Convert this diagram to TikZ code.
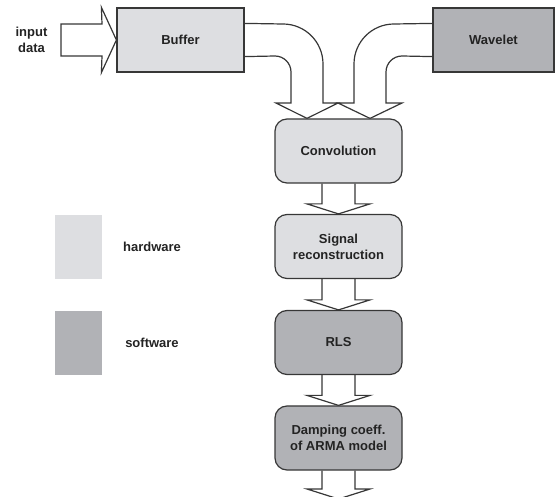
\documentclass[tikz,border=0pt]{standalone}
\usepackage{fontspec}
\setmainfont{Liberation Sans}
\usetikzlibrary{calc,backgrounds}
\definecolor{hwgray}{RGB}{221,222,225}
\definecolor{swgray}{RGB}{177,178,182}
\definecolor{linegray}{RGB}{55,55,55}
\definecolor{txtgray}{RGB}{35,35,35}
\newcommand\varrow[2]{\path[blockarrow] let \p1=(#1), \p2=(#2) in
  (\x1-16.5pt,\y1) -- (\x1-16.5pt,\y2+10pt) -- (\x1-31.5pt,\y2+10pt) -- (\x1,\y2)
  -- (\x1+31.5pt,\y2+10pt) -- (\x1+16.5pt,\y2+10pt) -- (\x1+16.5pt,\y1);}
\begin{document}
\begin{tikzpicture}[x=1pt,y=-1pt,
  lbl/.style={font=\fontsize{13}{16}\selectfont\bfseries, text=txtgray, align=center},
  box/.style={lbl, draw=linegray, line width=1.2pt, minimum width=127pt, minimum height=64pt, inner sep=0pt},
  hwbox/.style={box, fill=hwgray},
  swbox/.style={box, fill=swgray},
  rbox/.style={rounded corners=12pt},
  blockarrow/.style={draw=linegray, line width=1.2pt, fill=white, line join=miter},
  swatch/.style={minimum width=47pt, minimum height=64pt, inner sep=0pt}]
\useasboundingbox (0,0) rectangle (555,497);

% main boxes
\node[hwbox] (buf) at (180.5,40) {Buffer};
\node[swbox, minimum width=121pt] (wav) at (493.5,40) {Wavelet};
\node[hwbox, rbox] (conv) at (338.5,151) {Convolution};
\node[hwbox, rbox] (sig) at (338.5,246.5) {Signal\\reconstruction};
\node[swbox, rbox] (rls) at (338.5,342.5) {RLS};
\node[swbox, rbox] (damp) at (338.5,438) {Damping coeff.\\of ARMA model};
\coordinate (out) at (338.5,499);

% input label
\node[lbl] (inp) at (31.5,40) {input\\data};

% legend
\node[swatch, fill=hwgray] (hwsw) at (78.5,247) {};
\node[swatch, fill=swgray] (swsw) at (78.5,343) {};
\node[lbl] (hwl) at (152,247) {hardware};
\node[lbl] (swl) at (152,343) {software};

\begin{scope}[on background layer]
% input arrow
\path[blockarrow] (61,24) -- (102,24) -- ($(buf.north west)+(-15,0)$) -- (buf.west)
  -- ($(buf.south west)+(-15,0)$) -- (102,56) -- (61,56) -- cycle;
% Buffer -> Convolution
\path[blockarrow] ($(buf.north east)+(0,16)$) -- (283,24) .. controls (305.1,24) and (323,41.9) .. (323,64)
  -- (323,103) -- (338,103) -- ($(conv.north)+(-31.5,0)$) -- (276,103) -- (291,103)
  -- (291,72) .. controls (291,63.2) and (283.8,56) .. (275,56) -- ($(buf.south east)+(0,-16)$);
% Wavelet -> Convolution
\path[blockarrow] ($(wav.north west)+(0,16)$) -- (394,24) .. controls (371.9,24) and (354,41.9) .. (354,64)
  -- (354,103) -- (338,103) -- ($(conv.north)+(31.5,0)$) -- (402,103) -- (386,103)
  -- (386,72) .. controls (386,63.2) and (393.2,56) .. (402,56) -- ($(wav.south west)+(0,-16)$);
% vertical arrows
\varrow{conv.south}{sig.north}
\varrow{sig.south}{rls.north}
\varrow{rls.south}{damp.north}
\varrow{damp.south}{out}
\end{scope}
\end{tikzpicture}
\end{document}
